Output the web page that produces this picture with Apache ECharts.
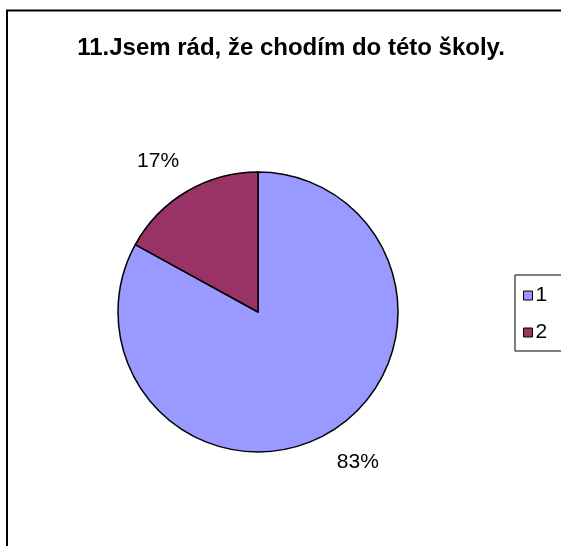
<!DOCTYPE html>
<html>
<head>
<meta charset="utf-8">
<script src="https://cdn.jsdelivr.net/npm/echarts@6/dist/echarts.min.js"></script>
<style>html,body{margin:0;padding:0;background:#fff}#c{width:561px;height:546px}</style>
</head>
<body>
<div id="c"></div>
<script>
const titleText = '11.Jsem rád, že chodím do této školy.';
const categories = ['1', '2'];
const values = [83, 17];
const colors = ['#9999FF', '#993366'];

const chart = echarts.init(document.getElementById('c'), null, {renderer: 'canvas'});
const data = categories.map((c, i) => ({name: c, value: values[i], itemStyle: {color: colors[i]}}));
const font = 'Arial, "Liberation Sans", sans-serif';
chart.setOption({
  animation: false,
  backgroundColor: '#fff',
  title: {
    text: titleText,
    left: 286, top: 31, textAlign: 'center',
    textStyle: {fontFamily: font, fontWeight: 'bold', fontSize: 24, color: '#000'}
  },
  legend: {
    orient: 'vertical',
    left: 515, top: 275,
    padding: [10, 40, 8, 8],
    itemGap: 16,
    itemWidth: 9, itemHeight: 9,
    icon: 'rect',
    borderColor: '#000', borderWidth: 1,
    itemStyle: {borderColor: '#000', borderWidth: 1},
    textStyle: {fontFamily: font, fontSize: 21, color: '#000', padding: [0,0,0,-2]},
    data: categories
  },
  graphic: [
    {type: 'line', shape: {x1: 6, y1: 10.5, x2: 561, y2: 10.5}, style: {stroke: '#000', lineWidth: 2}},
    {type: 'line', shape: {x1: 7, y1: 10, x2: 7, y2: 546}, style: {stroke: '#000', lineWidth: 2}}
  ],
  series: [
    {
      type: 'pie',
      center: [258, 312],
      radius: [0, 140],
      startAngle: 90,
      clockwise: true,
      silent: true,
      label: {show: false},
      labelLine: {show: false},
      itemStyle: {borderColor: '#000', borderWidth: 1.5},
      data: data
    },
    {
      type: 'pie',
      center: [258, 312],
      radius: [140, 215],
      startAngle: 93,
      clockwise: true,
      silent: true,
      legendHoverLink: false,
      label: {show: true, position: 'inside', formatter: '{d}%', fontFamily: font, fontSize: 21, color: '#000'},
      labelLine: {show: false},
      itemStyle: {color: 'rgba(0,0,0,0)', borderWidth: 0},
      emphasis: {disabled: true},
      data: categories.map((c, i) => ({name: c, value: values[i]}))
    }
  ]
});
</script>
</body>
</html>
